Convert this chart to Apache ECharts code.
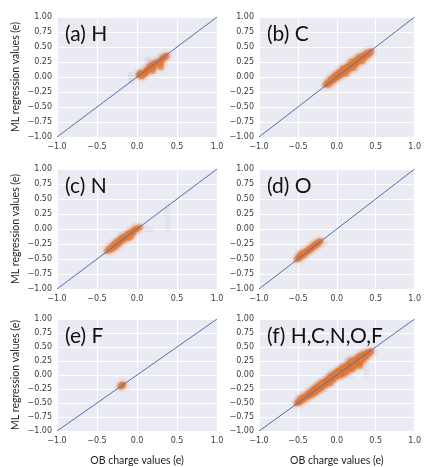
<!DOCTYPE html>
<html>
<head>
<meta charset="utf-8">
<script src="https://cdn.jsdelivr.net/npm/echarts@6/dist/echarts.min.js"></script>
<style>
  html, body { margin: 0; padding: 0; background: #fff; }
  #chart { width: 424px; height: 467px; }
</style>
</head>
<body>
<div id="chart"></div>
<script>
// Panel titles (one per element and the combined set)
const panelTitles = ['(a) H', '(b) C', '(c) N', '(d) O', '(e) F', '(f) H,C,N,O,F'];

// Tick values shared by all panels
const xTicks = [-1.0, -0.5, 0.0, 0.5, 1.0];
const yTicks = [-1.0, -0.75, -0.5, -0.25, 0.0, 0.25, 0.5, 0.75, 1.0];

// Parity reference line (OB charge = ML value)
const parityLine = [[-1, -1], [1, 1]];

// [OB charge, ML regression] pairs, dense core of each element
const hCore = [
  [0.02,0.03],[0.03,0.05],[0.04,0.02],[0.05,0.04],[0.06,0.06],[0.07,0.03],[0.08,0.05],
  [0.09,0.07],[0.10,0.06],[0.11,0.09],[0.12,0.08],[0.12,0.12],[0.13,0.10],[0.14,0.13],
  [0.15,0.12],[0.15,0.17],[0.16,0.15],[0.17,0.19],[0.18,0.16],[0.19,0.21],[0.20,0.19],
  [0.20,0.10],[0.20,0.14],[0.21,0.17],[0.21,0.22],[0.22,0.20],[0.23,0.24],[0.24,0.22],
  [0.25,0.23],[0.28,0.27],[0.29,0.24],[0.29,0.19],[0.30,0.16],[0.30,0.22],[0.30,0.28],
  [0.31,0.30],[0.32,0.32],[0.33,0.31],[0.34,0.33],[0.35,0.35],[0.36,0.34],[0.37,0.36],
  [0.04,0.07],[0.06,0.01]
];
const hSparse = [
  [-0.08,-0.05],[-0.08,0.0],[-0.08,0.04],[-0.07,-0.08],[0.13,0.27],[0.14,0.30],
  [0.18,0.12],[0.40,0.35]
];

const cCore = [
  [-0.15,-0.13],[-0.13,-0.12],[-0.12,-0.09],[-0.11,-0.13],[-0.10,-0.07],[-0.09,-0.10],
  [-0.08,-0.04],[-0.07,-0.08],[-0.06,-0.02],[-0.05,-0.06],[-0.04,0.00],[-0.03,-0.04],
  [-0.02,0.03],[-0.01,-0.02],[0.00,0.05],[0.01,0.00],[0.02,0.07],[0.03,0.02],[0.04,0.09],
  [0.05,0.03],[0.06,0.10],[0.07,0.05],[0.08,0.12],[0.09,0.07],[0.10,0.14],[0.11,0.08],
  [0.12,0.16],[0.13,0.10],[0.14,0.18],[0.15,0.12],[0.16,0.20],[0.17,0.14],[0.18,0.21],
  [0.19,0.16],[0.20,0.23],[0.21,0.18],[0.22,0.25],[0.23,0.20],[0.24,0.27],[0.25,0.22],
  [0.26,0.29],[0.27,0.25],[0.28,0.30],[0.29,0.27],[0.30,0.32],[0.31,0.28],[0.32,0.34],
  [0.33,0.30],[0.34,0.36],[0.35,0.32],[0.36,0.37],[0.37,0.34],[0.38,0.39],[0.39,0.36],
  [0.40,0.40],[0.41,0.38],[0.42,0.42],[0.43,0.40],[0.44,0.43],[0.05,0.06],[0.10,0.10],
  [0.15,0.16],[0.20,0.20],[0.25,0.25],[0.00,0.01],[-0.05,-0.03],[0.30,0.29],[0.35,0.35],
  [0.08,0.15],[0.12,0.05],[0.18,0.26],[0.22,0.15],[0.28,0.34],[0.33,0.26]
];
const cSparse = [
  [0.48,0.40],[0.47,0.45],[-0.12,-0.03],[0.05,0.15],[0.20,0.30],[0.25,0.14],[-0.10,-0.15]
];

const nCore = [
  [-0.38,-0.37],[-0.36,-0.33],[-0.35,-0.36],[-0.33,-0.30],[-0.32,-0.34],[-0.30,-0.27],
  [-0.29,-0.31],[-0.28,-0.24],[-0.27,-0.29],[-0.26,-0.22],[-0.25,-0.27],[-0.24,-0.20],
  [-0.23,-0.25],[-0.22,-0.18],[-0.21,-0.22],[-0.20,-0.16],[-0.19,-0.20],[-0.18,-0.14],
  [-0.17,-0.18],[-0.16,-0.13],[-0.15,-0.16],[-0.14,-0.11],[-0.13,-0.14],[-0.12,-0.09],
  [-0.11,-0.12],[-0.10,-0.07],[-0.09,-0.10],[-0.08,-0.06],[-0.07,-0.08],[-0.06,-0.04],
  [-0.05,-0.06],[-0.04,-0.03],[-0.03,-0.02],[-0.02,0.00],[-0.01,-0.01],[0.00,0.01],
  [0.02,0.02],[0.04,0.03],[-0.08,-0.13],[-0.10,-0.15],[-0.30,-0.32],[-0.26,-0.25]
];
const nSparse = [
  [0.38,0.00],[0.38,0.10],[0.38,0.20],[0.38,0.30],[0.38,0.38],[0.12,0.00],[0.18,-0.02],
  [-0.05,-0.10],[-0.20,-0.10]
];

const oCore = [
  [-0.52,-0.51],[-0.50,-0.48],[-0.49,-0.50],[-0.48,-0.45],[-0.47,-0.47],[-0.46,-0.43],
  [-0.45,-0.45],[-0.44,-0.41],[-0.43,-0.44],[-0.42,-0.40],[-0.41,-0.41],[-0.40,-0.38],
  [-0.39,-0.39],[-0.38,-0.36],[-0.37,-0.37],[-0.36,-0.34],[-0.35,-0.35],[-0.34,-0.32],
  [-0.33,-0.33],[-0.32,-0.30],[-0.31,-0.31],[-0.30,-0.28],[-0.29,-0.29],[-0.28,-0.26],
  [-0.27,-0.27],[-0.26,-0.24],[-0.25,-0.25],[-0.24,-0.23],[-0.23,-0.22],[-0.22,-0.21],
  [-0.21,-0.20],[-0.45,-0.40]
];
const oSparse = [[-0.15,-0.25],[-0.50,-0.42],[-0.20,-0.25]];

const fCore = [
  [-0.21,-0.21],[-0.20,-0.19],[-0.19,-0.20],[-0.18,-0.18],[-0.17,-0.17],[-0.19,-0.18]
];
const fSparse = [];

const coreSets = [hCore, cCore, nCore, oCore, fCore,
  hCore.concat(cCore, nCore, oCore, fCore)];
const sparseSets = [hSparse, cSparse, nSparse, oSparse, fSparse,
  hSparse.concat(cSparse, nSparse, oSparse, fSparse)];

const colLeft = [57, 259];
const rowTop = [17, 169, 319];
const panelW = 160;
const panelH = 120;

const fmt = (v, d) => (v < 0 ? '\u2212' : '') + Math.abs(v).toFixed(d);

const grid = [], xAxis = [], yAxis = [], series = [], graphic = [];
panelTitles.forEach((t, i) => {
  const col = i % 2, row = Math.floor(i / 2);
  grid.push({ left: colLeft[col], top: rowTop[row], width: panelW, height: panelH,
    show: true, backgroundColor: '#EAEAF2', borderWidth: 0 });
  xAxis.push({
    type: 'value', gridIndex: i, min: -1, max: 1, interval: 0.5,
    axisLine: { show: false }, axisTick: { show: false },
    splitLine: { lineStyle: { color: '#ffffff', width: 1 } },
    axisLabel: { fontFamily: 'DejaVu Sans', fontSize: 8, color: '#3a3a3a', margin: 6,
      formatter: v => fmt(v, 1), showMinLabel: true, showMaxLabel: true },
    name: row === 2 ? 'OB charge values (e)' : '',
    nameLocation: 'middle', nameGap: 24,
    nameTextStyle: { fontFamily: 'Lato', fontSize: 10.5, color: '#222' }
  });
  yAxis.push({
    type: 'value', gridIndex: i, min: -1, max: 1, interval: 0.25,
    axisLine: { show: false }, axisTick: { show: false },
    splitLine: { lineStyle: { color: '#ffffff', width: 1 } },
    axisLabel: { fontFamily: 'DejaVu Sans', fontSize: 8, color: '#3a3a3a', margin: 5,
      formatter: v => fmt(v, 2) },
    name: col === 0 ? 'ML regression values (e)' : '',
    nameLocation: 'middle', nameGap: 36, nameRotate: 90,
    nameTextStyle: { fontFamily: 'Lato', fontSize: 10.5, color: '#222' }
  });
  series.push({
    type: 'scatter', xAxisIndex: i, yAxisIndex: i, data: sparseSets[i],
    symbolSize: 6, silent: true, z: 2,
    itemStyle: { color: '#9a9ab4', opacity: 0.08,
      shadowBlur: 4, shadowColor: 'rgba(150,150,180,0.3)' }
  });
  series.push({
    type: 'scatter', xAxisIndex: i, yAxisIndex: i, data: coreSets[i],
    symbolSize: 6, silent: true, z: 3,
    itemStyle: { color: '#E4793A', opacity: 0.5,
      shadowBlur: 4, shadowColor: 'rgba(228,121,58,0.6)' }
  });
  series.push({
    type: 'line', xAxisIndex: i, yAxisIndex: i, data: parityLine,
    symbol: 'none', lineStyle: { color: '#4C72B0', width: 1 }, silent: true, z: 4
  });
  graphic.push({
    type: 'text', left: colLeft[col] + 8, top: rowTop[row] + 7, z: 10,
    style: { text: t, font: '21px Lato', fill: '#111' }
  });
});

const chart = echarts.init(document.getElementById('chart'), null, { renderer: 'canvas' });
chart.setOption({
  animation: false,
  grid, xAxis, yAxis, series, graphic
});
</script>
</body>
</html>
